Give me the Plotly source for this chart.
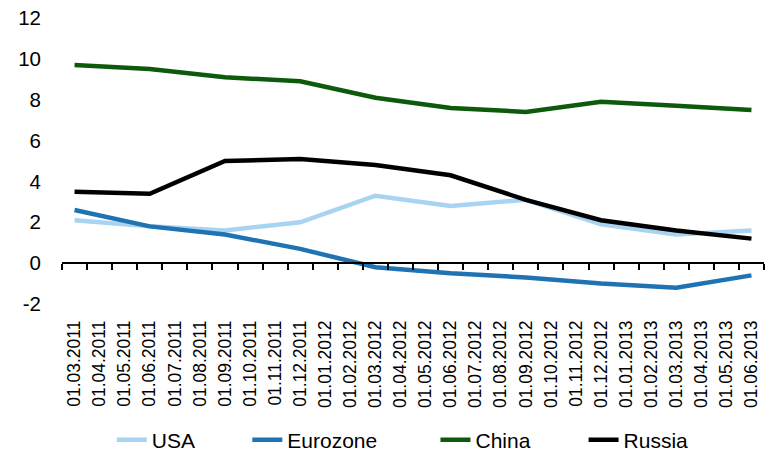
import plotly.graph_objects as go

# Monthly category labels along the x axis
months = [
    "01.03.2011", "01.04.2011", "01.05.2011", "01.06.2011", "01.07.2011",
    "01.08.2011", "01.09.2011", "01.10.2011", "01.11.2011", "01.12.2011",
    "01.01.2012", "01.02.2012", "01.03.2012", "01.04.2012", "01.05.2012",
    "01.06.2012", "01.07.2012", "01.08.2012", "01.09.2012", "01.10.2012",
    "01.11.2012", "01.12.2012", "01.01.2013", "01.02.2013", "01.03.2013",
    "01.04.2013", "01.05.2013", "01.06.2013",
]

# Quarterly observations
quarters = [
    "01.03.2011", "01.06.2011", "01.09.2011", "01.12.2011", "01.03.2012",
    "01.06.2012", "01.09.2012", "01.12.2012", "01.03.2013", "01.06.2013",
]
usa = [2.1, 1.8, 1.6, 2.0, 3.3, 2.8, 3.1, 1.9, 1.4, 1.6]
eurozone = [2.6, 1.8, 1.4, 0.7, -0.2, -0.5, -0.7, -1.0, -1.2, -0.6]
china = [9.7, 9.5, 9.1, 8.9, 8.1, 7.6, 7.4, 7.9, 7.7, 7.5]
russia = [3.5, 3.4, 5.0, 5.1, 4.8, 4.3, 3.1, 2.1, 1.6, 1.2]

y_ticks = [-2, 0, 2, 4, 6, 8, 10, 12]
y_tick_text = ["-2", "0", "2", "4", "6", "8", "10", "12"]

series = [
    ("USA", usa, "#A8D3F1"),
    ("Eurozone", eurozone, "#1F73B3"),
    ("China", china, "#0D5A0D"),
    ("Russia", russia, "#000000"),
]
# Horizontal placement of each legend entry along the bottom row
legend_x = [0.071, 0.264, 0.532, 0.743]

FONT = "Liberation Sans, Arial, sans-serif"

fig = go.Figure()
legend_layout = {}
for i, ((name, vals, color), lx) in enumerate(zip(series, legend_x)):
    key = "legend" if i == 0 else f"legend{i + 1}"
    fig.add_trace(go.Scatter(
        x=quarters, y=vals, name=name, mode="lines",
        line=dict(color=color, width=4.5), legend=key,
    ))
    legend_layout[key] = dict(
        orientation="h", x=lx, xanchor="left", y=-0.4755, yanchor="middle",
        font=dict(size=21, family=FONT), bgcolor="rgba(0,0,0,0)",
    )

# Helper trace so the zero-level axis (line + boundary ticks) gets drawn
fig.add_trace(go.Scatter(
    x=months, y=[None] * len(months), xaxis="x2", showlegend=False,
    hoverinfo="skip", mode="lines",
))

fig.update_layout(
    width=768, height=456,
    margin=dict(l=62, r=4, t=18, b=152, autoexpand=False),
    paper_bgcolor="white", plot_bgcolor="white",
    font=dict(family=FONT, color="#000000"),
    xaxis=dict(
        type="category", categoryorder="array", categoryarray=months,
        tickmode="array", tickvals=months, ticktext=months,
        range=[-0.5, len(months) - 0.5], automargin=False,
        showline=False, showgrid=False, zeroline=False, ticks="",
        tickangle=-90, tickfont=dict(size=17.5, family=FONT),
        ticklabelstandoff=12,
    ),
    xaxis2=dict(
        type="category", categoryorder="array", categoryarray=months,
        range=[-0.5, len(months) - 0.5], automargin=False,
        overlaying="x", anchor="free", position=2 / 14, side="bottom",
        showline=True, linecolor="#000000", linewidth=2,
        ticks="outside", tickson="boundaries", ticklen=6, tickwidth=1.5,
        tickcolor="#000000", showticklabels=False, showgrid=False,
        zeroline=False,
    ),
    yaxis=dict(
        range=[-2, 12], tickmode="array", tickvals=y_ticks,
        ticktext=y_tick_text, automargin=False,
        showline=False, showgrid=False, zeroline=False, ticks="",
        tickfont=dict(size=20.5, family=FONT), ticklabelstandoff=20,
    ),
    showlegend=True,
    **legend_layout,
)

fig.write_html("out.html")
